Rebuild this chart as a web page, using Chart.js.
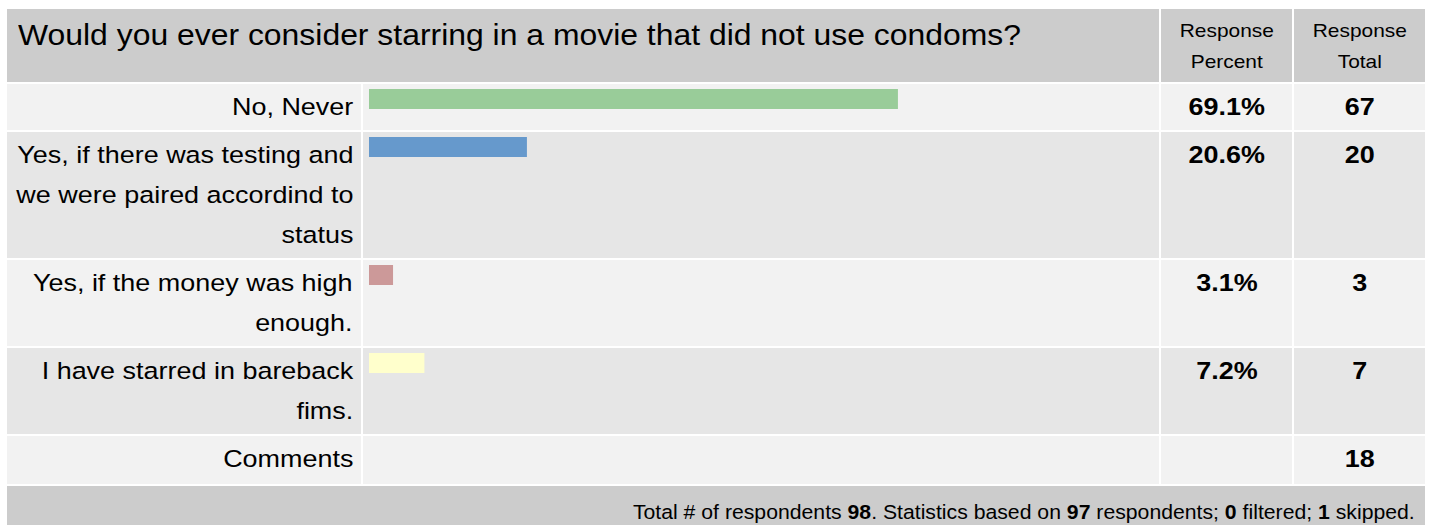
<!DOCTYPE html>
<html>
<head>
<meta charset="utf-8">
<script src="https://cdn.jsdelivr.net/npm/chart.js@4"></script>
<style>
  html, body { margin: 0; padding: 0; background: #ffffff; width: 1432px; height: 525px; overflow: hidden; }
  body { font-family: "Liberation Sans", Arial, Helvetica, sans-serif; color: #000; }
  #grid {
    position: absolute; left: 7px; top: 9px;
    display: grid;
    grid-template-columns: 354px 796px 131px 131px;
    grid-template-rows: 73px 46px 126px 86px 86px 48px 60px;
    gap: 2px;
  }
  .cell { box-sizing: border-box; overflow: hidden; }
  .hdr { background: #cccccc; }
  .odd { background: #f2f2f2; }
  .even { background: #e6e6e6; }
  .t { display: inline-block; transform: scaleX(1.1); white-space: nowrap; }
  .title { grid-column: 1 / span 2; font-size: 29px; line-height: 40px; padding: 6px 0 0 11px; }
  .title .t { transform-origin: left center; }
  .colhead { text-align: center; font-size: 19px; line-height: 31px; padding-top: 5.6px; }
  .colhead .t { transform-origin: center; }
  .label { text-align: right; font-size: 24.5px; line-height: 40px; padding: 2.5px 8px 0 0; }
  .label .t { transform-origin: right center; text-align: right; }
  .val { text-align: center; font-size: 24.5px; font-weight: bold; line-height: 40px; padding-top: 2.5px; }
  .val .t { transform-origin: center; }
  .barcell { position: relative; }
  .barcell canvas { position: absolute; left: 0; top: 0; }
  .footer { grid-column: 1 / span 4; background: #cccccc; text-align: right; font-size: 19.3px; line-height: 24px; padding: 14.8px 10px 0 0; }
  .footer .t { transform-origin: right center; }
</style>
</head>
<body>
<div id="grid"></div>
<script>
// ---- data ----
const question = "Would you ever consider starring in a movie that did not use condoms?";
const columnHeads = ["Response\nPercent", "Response\nTotal"];
const answers = [
  "No, Never",
  "Yes, if there was testing and\nwe were paired accordind to\nstatus",
  "Yes, if the money was high\nenough.",
  "I have starred in bareback\nfims."
];
const percents = [69.1, 20.6, 3.1, 7.2];
const totals = [67, 20, 3, 7];
const commentsLabel = "Comments";
const commentsTotal = 18;
const respondentsTotal = 98;
const respondentsBased = 97;
const filteredCount = 0;
const skippedCount = 1;

// ---- styles ----
const barColors = ["#99cc99", "#6699cc", "#cc9999", "#ffffcc"];

const grid = document.getElementById("grid");
function cell(cls, html) {
  const d = document.createElement("div");
  d.className = "cell " + cls;
  if (html !== undefined) d.innerHTML = html;
  grid.appendChild(d);
  return d;
}
function esc(s) { return String(s).replace(/&/g, "&amp;").replace(/</g, "&lt;"); }
function txt(s) { return '<span class="t">' + esc(s).split("\n").join("<br>") + '</span>'; }

cell("hdr title", txt(question));
columnHeads.forEach(h => cell("hdr colhead", txt(h)));

answers.forEach((a, i) => {
  const rc = i % 2 === 0 ? "odd" : "even";
  cell(rc + " label", txt(a));
  const bc = cell(rc + " barcell");
  const cv = document.createElement("canvas");
  cv.width = 796; cv.height = 30;
  cv.style.width = "796px"; cv.style.height = "30px";
  bc.appendChild(cv);
  new Chart(cv, {
    type: "bar",
    data: {
      labels: [a],
      datasets: [{
        data: [percents[i]],
        backgroundColor: barColors[i],
        borderWidth: 0,
        barThickness: 20
      }]
    },
    options: {
      indexAxis: "y",
      responsive: false,
      animation: false,
      events: [],
      layout: { padding: { left: 6, right: 25, top: 5, bottom: 5 } },
      plugins: { legend: { display: false }, tooltip: { enabled: false } },
      scales: {
        x: { min: 0, max: 100, display: false },
        y: { display: false }
      }
    }
  });
  cell(rc + " val", txt(percents[i].toFixed(1) + "%"));
  cell(rc + " val", txt(totals[i]));
});

cell("odd label", txt(commentsLabel));
cell("odd");
cell("odd");
cell("odd val", txt(commentsTotal));

cell("footer",
  '<span class="t">Total # of respondents <b>' + respondentsTotal + '</b>. Statistics based on <b>' +
  respondentsBased + '</b> respondents; <b>' + filteredCount + '</b> filtered; <b>' + skippedCount + '</b> skipped.</span>');
</script>
</body>
</html>
